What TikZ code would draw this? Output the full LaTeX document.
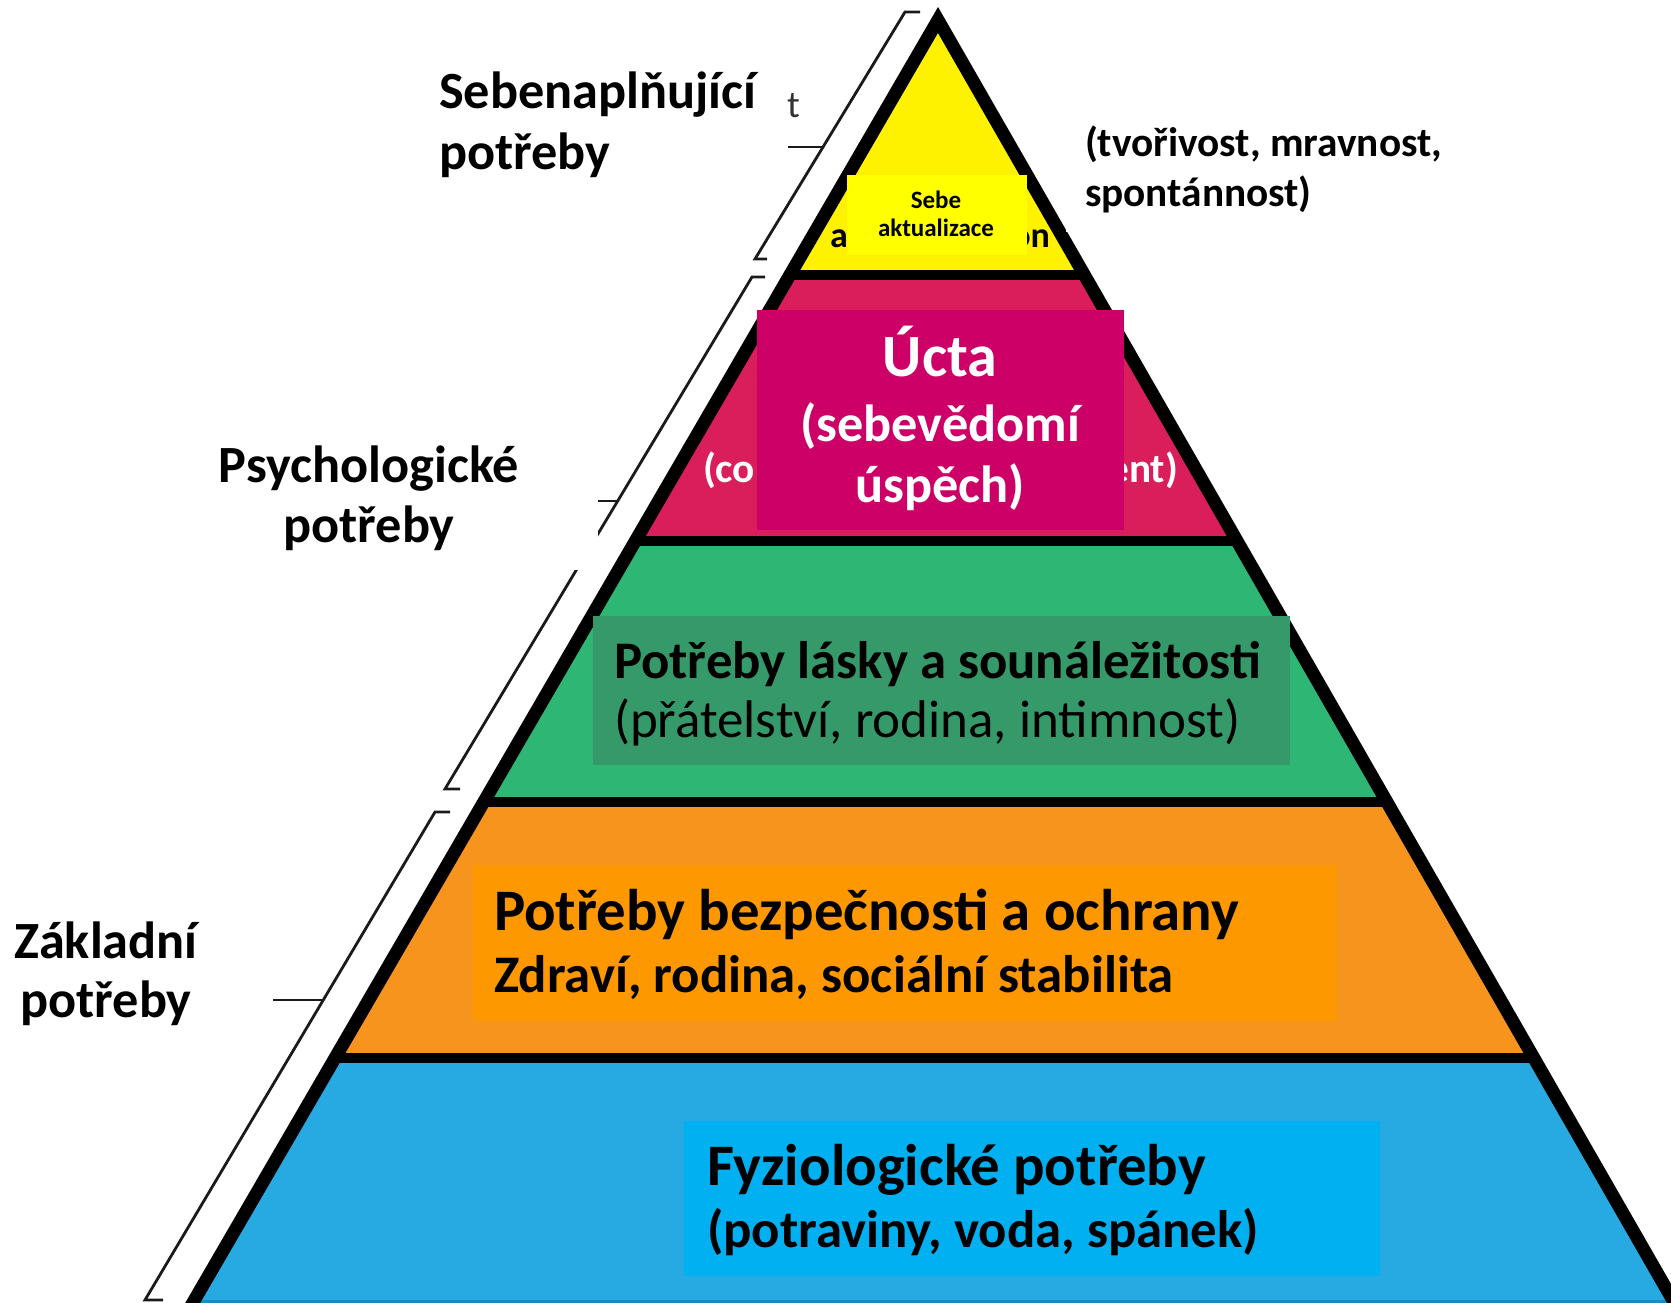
\documentclass[tikz,border=0pt]{standalone}
\usepackage{fontspec}
\setmainfont{Carlito}
\definecolor{cYel}{HTML}{FFF200}
\definecolor{cYelBox}{HTML}{FFFF00}
\definecolor{cPink}{HTML}{D91E5B}
\definecolor{cPinkBox}{HTML}{CC0066}
\definecolor{cGreen}{HTML}{2DB674}
\definecolor{cGreenBox}{HTML}{35996A}
\definecolor{cOrange}{HTML}{F7941D}
\definecolor{cOrangeBox}{HTML}{FD9800}
\definecolor{cBlue}{HTML}{27AAE1}
\definecolor{cBlueBox}{HTML}{00B0F0}
\definecolor{cBlueLine}{HTML}{1A8CC0}
\definecolor{cBracket}{HTML}{1A1A1A}
\definecolor{cFrag}{HTML}{333333}
\tikzset{
  txt/.style={inner sep=0pt, outer sep=0pt},
  fbig/.style={font=\fontsize{52.3}{62}\selectfont\bfseries},
  fbox/.style={font=\fontsize{52.8}{62}\selectfont\bfseries},
  fbigger/.style={font=\fontsize{58.8}{70}\selectfont\bfseries},
  freg/.style={font=\fontsize{53}{62}\selectfont},
  fside/.style={font=\fontsize{41.3}{50}\selectfont\bfseries},
  ffrag/.style={font=\fontsize{36}{44}\selectfont\bfseries},
  fsmall/.style={font=\fontsize{25}{30}\selectfont\bfseries},
  panel/.style={inner sep=0pt, outer sep=0pt, anchor=north west},
  sepline/.style={line width=10pt, black},
  outline/.style={line width=13pt, black, line join=miter},
  bracket/.style={line width=2.8pt, cBracket, line join=miter},
}
\begin{document}
\begin{tikzpicture}[x=1pt,y=-1pt]
\useasboundingbox (0,0) rectangle (1671,1303);
\begin{scope}
\clip (0,0) rectangle (1671,1303);
\coordinate (apex) at (938,20);
\coordinate (bl) at (177,1330);
\coordinate (br) at (1690,1330);
% layers
\begin{scope}
\clip (apex) -- (bl) -- (br) -- cycle;
\fill[cYel] (0,0) rectangle (1671,275);
\fill[cPink] (0,275) rectangle (1671,541);
\fill[cGreen] (0,541) rectangle (1671,802);
\fill[cOrange] (0,802) rectangle (1671,1058);
\fill[cBlue] (0,1058) rectangle (1671,1340);
\draw[sepline] (0,275) -- (1671,275);
\draw[sepline] (0,541) -- (1671,541);
\draw[sepline] (0,802) -- (1671,802);
\draw[sepline] (0,1058) -- (1671,1058);
\draw[cBlueLine, line width=3pt] (0,1301.5) -- (1671,1301.5);
\end{scope}
\draw[outline] (bl) -- (apex) -- (br);
% hidden fragments of the original labels
\node[txt, ffrag, anchor=base west] (fa) at (830,247) {a};
\node[txt, ffrag, anchor=base east] (fon) at (1050,247) {on};
\node[txt, fside, white, anchor=base west] (fco) at (703,482) {(co};
\node[txt, fside, white, anchor=base east] (fent) at (1178,482) {ent)};
% boxes
\node[panel, fill=cYelBox, minimum width=180pt, minimum height=80pt] (ybox) at (847,175) {};
\node[txt, fsmall, anchor=base] (y1) at (936,208) {Sebe};
\node[txt, fsmall, anchor=base] (y2) at (936,236) {aktualizace};
\node[panel, fill=cPinkBox, minimum width=367pt, minimum height=220pt] (pbox) at (757,310) {};
\node[txt, white, font=\fontsize{60}{72}\selectfont\bfseries, anchor=base] (p1) at (940,376) {Úcta};
\node[txt, white, fbig, anchor=base] (p2) at (940,441) {(sebevědomí};
\node[txt, white, fbig, anchor=base] (p3) at (940,502) {úspěch)};
\node[panel, fill=cGreenBox, minimum width=697pt, minimum height=149pt] (gbox) at (593,616) {};
\node[txt, fbox, anchor=base west] (g1) at (614,678) {Potřeby lásky a sounáležitosti};
\node[txt, freg, anchor=base west] (g2) at (614,737) {(přátelství, rodina, intimnost)};
\node[panel, fill=cOrangeBox, minimum width=864pt, minimum height=156pt] (obox) at (473,865) {};
\node[txt, fbigger, anchor=base west] (o1) at (494,930) {Potřeby bezpečnosti a ochrany};
\node[txt, fbox, anchor=base west] (o2) at (494,992) {Zdraví, rodina, sociální stabilita};
\node[panel, fill=cBlueBox, minimum width=696pt, minimum height=155pt] (bbox) at (684,1121) {};
\node[txt, fbigger, anchor=base west] (b1) at (707,1185) {Fyziologické potřeby};
\node[txt, fbox, anchor=base west] (b2) at (707,1247) {(potraviny, voda, spánek)};
% white patch at top right
\fill[white] (1066,0) rectangle (1671,232);
\node[txt, fside, anchor=base west] (r1) at (1085,157) {(tvořivost, mravnost,};
\node[txt, fside, anchor=base west] (r2) at (1085,207) {spontánnost)};
% brackets
\draw[bracket] (920,12) -- (905,12) -- (755,259) -- (767,259);
\draw[bracket] (823,147) -- (788,147);
\node[txt, font=\fontsize{38}{44}\selectfont, cFrag, anchor=base west] (ft) at (787,118) {t};
\draw[bracket] (765,277) -- (752,277) -- (445,789) -- (460,789);
\draw[bracket] (618,501) -- (596,501);
\draw[bracket] (450,812) -- (435,812) -- (145,1300) -- (163,1300);
\draw[bracket] (323,1000) -- (273,1000);
% labels
\fill[white] (200,420) rectangle (598,570);
\node[txt, fbig, anchor=base west] (l1a) at (439,109) {Sebenaplňující};
\node[txt, fbig, anchor=base west] (l1b) at (439,169) {potřeby};
\node[txt, fbig, anchor=base] (l2a) at (369,482) {Psychologické};
\node[txt, fbig, anchor=base] (l2b) at (369,542) {potřeby};
\node[txt, fbig, anchor=base] (l3a) at (106,958) {Základní};
\node[txt, fbig, anchor=base] (l3b) at (106,1017) {potřeby};
\end{scope}
\end{tikzpicture}
\end{document}
